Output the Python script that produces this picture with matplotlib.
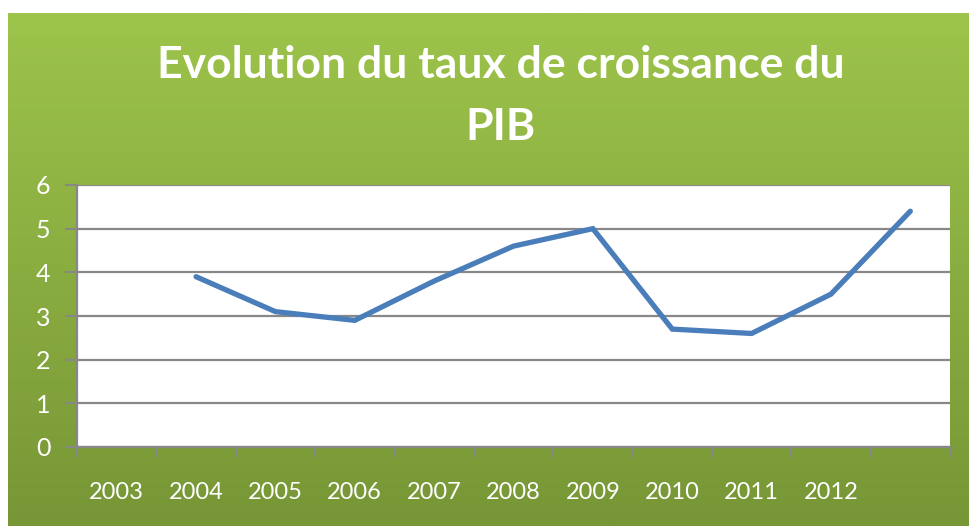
import numpy as np
import matplotlib.pyplot as plt
from matplotlib.colors import LinearSegmentedColormap

years = ['2003', '2004', '2005', '2006', '2007', '2008', '2009', '2010', '2011', '2012', '']
taux = [np.nan, 3.9, 3.1, 2.9, 3.8, 4.6, 5.0, 2.7, 2.6, 3.5, 5.4]

W, H = 969, 526
fig = plt.figure(figsize=(W / 100, H / 100), dpi=100)
fig.patch.set_facecolor('white')

# green gradient panel
bg = fig.add_axes([8 / W, 0, 1 - 8 / W, (H - 13) / H])
bg.set_axis_off()
cmap = LinearSegmentedColormap.from_list('g', ['#779636', '#9dc44b'])
grad = np.linspace(0, 1, 256).reshape(-1, 1)
bg.imshow(grad, aspect='auto', cmap=cmap, origin='lower', extent=[0, 1, 0, 1])

fig.text(0.517, (H - 65) / H, 'Evolution du taux de croissance du', ha='center', va='center',
         color='white', fontsize=32, fontweight='bold', family='Lato')
fig.text(0.517, (H - 127) / H, 'PIB', ha='center', va='center',
         color='white', fontsize=32, fontweight='bold', family='Lato')

ax = fig.add_axes([77 / W, (H - 447) / H, 873 / W, 262 / H])
ax.set_facecolor('white')
x = np.arange(len(years))
ax.plot(x, taux, color='#4a7ebb', lw=3.8, solid_capstyle='round', solid_joinstyle='miter')

ax.set_xlim(-0.5, len(years) - 0.5)
ax.set_ylim(0, 6)
ax.set_yticks(range(7))
ax.set_xticks(x)
ax.set_xticklabels(years)
ax.set_xticks(np.arange(-0.5, len(years)), minor=True)
ax.tick_params(axis='x', which='major', length=0, pad=25, labelsize=17, labelcolor='white')
ax.tick_params(axis='x', which='minor', length=7, width=1.5, color='#888888')
ax.tick_params(axis='y', length=9, width=1.5, color='#888888', pad=10, labelsize=18, labelcolor='white')
for lab in ax.get_xticklabels() + ax.get_yticklabels():
    lab.set_family('Lato')

ax.grid(axis='y', color='#888888', lw=1.6)
ax.set_axisbelow(True)
for s in ['top', 'right']:
    ax.spines[s].set_visible(False)
for s in ['left', 'bottom']:
    ax.spines[s].set_color('#888888')
    ax.spines[s].set_linewidth(1.6)

fig.savefig('out.png', dpi=100)
